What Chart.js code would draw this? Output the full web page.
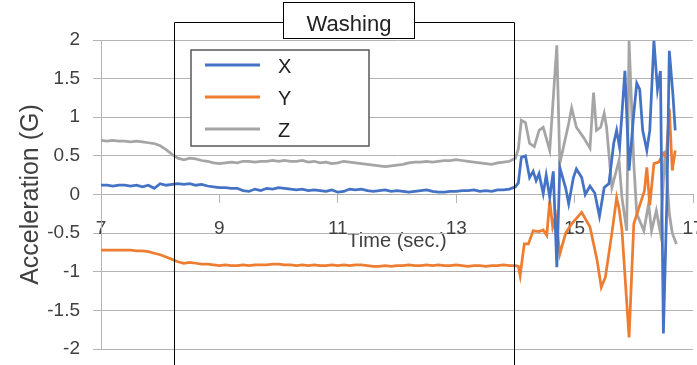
<!DOCTYPE html>
<html>
<head>
<meta charset="utf-8">
<script src="https://cdn.jsdelivr.net/npm/chart.js@4/dist/chart.umd.min.js"></script>
<style>
  html, body { margin: 0; padding: 0; background: #fff; }
</style>
</head>
<body>
<canvas id="chart" width="697" height="365"></canvas>
<script>
// time (sec.) for the quiet part of the recording
const calmTime = [
  7.0, 7.1, 7.2, 7.3, 7.4, 7.5, 7.6, 7.7, 7.8, 7.9, 8.0, 8.1, 8.2, 8.3, 8.4, 8.5, 8.6, 8.7, 8.8, 8.9, 9.0,
  9.1, 9.2, 9.3, 9.4, 9.5, 9.6, 9.7, 9.8, 9.9, 10.0,
  10.1, 10.2, 10.3, 10.4, 10.5, 10.6, 10.7, 10.8, 10.9, 11.0,
  11.1, 11.2, 11.3, 11.4, 11.5, 11.6, 11.7, 11.8, 11.9, 12.0,
  12.1, 12.2, 12.3, 12.4, 12.5, 12.6, 12.7, 12.8, 12.9, 13.0,
  13.1, 13.2, 13.3, 13.4, 13.5, 13.6, 13.7, 13.8, 13.9, 14.0
];
const calmX = [
  0.12, 0.12, 0.11, 0.12, 0.12, 0.11, 0.12, 0.10, 0.12, 0.08, 0.14, 0.12, 0.13, 0.14, 0.13, 0.14, 0.12, 0.13, 0.11, 0.10, 0.09,
  0.09, 0.08, 0.08, 0.05, 0.04, 0.07, 0.05, 0.08, 0.07, 0.09,
  0.08, 0.07, 0.06, 0.07, 0.05, 0.06, 0.05, 0.04, 0.06, 0.03,
  0.04, 0.07, 0.06, 0.07, 0.05, 0.04, 0.05, 0.06, 0.04, 0.05,
  0.04, 0.03, 0.04, 0.05, 0.06, 0.04, 0.03, 0.03, 0.04, 0.04,
  0.05, 0.05, 0.06, 0.04, 0.05, 0.04, 0.06, 0.06, 0.07, 0.10
];
const calmY = [
  -0.72, -0.72, -0.72, -0.72, -0.72, -0.72, -0.73, -0.73, -0.74, -0.76, -0.78, -0.81, -0.84, -0.87, -0.89, -0.88, -0.89, -0.90, -0.90, -0.91, -0.92,
  -0.91, -0.92, -0.92, -0.91, -0.92, -0.91, -0.91, -0.91, -0.90, -0.90,
  -0.91, -0.91, -0.92, -0.91, -0.92, -0.91, -0.92, -0.92, -0.91, -0.92,
  -0.91, -0.92, -0.91, -0.91, -0.92, -0.93, -0.93, -0.92, -0.93, -0.92,
  -0.92, -0.91, -0.92, -0.92, -0.91, -0.92, -0.91, -0.92, -0.92, -0.91,
  -0.92, -0.93, -0.92, -0.92, -0.93, -0.92, -0.92, -0.91, -0.92, -0.92
];
const calmZ = [
  0.70, 0.69, 0.70, 0.69, 0.69, 0.68, 0.69, 0.68, 0.67, 0.66, 0.63, 0.58, 0.52, 0.47, 0.45, 0.47, 0.46, 0.44, 0.43, 0.41, 0.40,
  0.41, 0.42, 0.41, 0.43, 0.43, 0.42, 0.43, 0.43, 0.44, 0.43,
  0.44, 0.43, 0.43, 0.44, 0.42, 0.43, 0.41, 0.42, 0.40, 0.41,
  0.43, 0.42, 0.41, 0.40, 0.39, 0.38, 0.37, 0.36, 0.37, 0.38,
  0.39, 0.41, 0.42, 0.42, 0.43, 0.42, 0.43, 0.44, 0.44, 0.45,
  0.44, 0.43, 0.42, 0.41, 0.40, 0.39, 0.41, 0.42, 0.43, 0.47
];

// after washing: shaking part, each axis read separately
const shakeTimeX = [14.05, 14.1, 14.17, 14.24, 14.3, 14.35, 14.4, 14.47, 14.52, 14.58, 14.64, 14.7, 14.75, 14.85, 14.9, 14.98,
  15.03, 15.12, 15.18, 15.26, 15.34, 15.42, 15.5, 15.58, 15.66, 15.71, 15.76, 15.85, 15.92, 16.0, 16.05, 16.1, 16.15,
  16.22, 16.27, 16.34, 16.4, 16.45, 16.5, 16.56, 16.6, 16.66, 16.7];
const shakeX = [0.15, 0.48, 0.50, 0.22, 0.30, 0.18, 0.27, 0.01, 0.25, -0.04, 0.30, -0.94, 0.35, 0.08, -0.12, 0.22,
  0.33, 0.22, 0.00, 0.11, 0.02, -0.28, 0.09, 0.14, 0.66, 0.83, 0.61, 1.60, 0.31, 1.05, 1.44, 1.36, 0.83,
  0.57, 0.83, 1.99, 1.36, 1.60, -1.80, -0.04, 1.86, 1.30, 0.83];

const shakeTimeY = [14.05, 14.08, 14.15, 14.22, 14.3, 14.4, 14.47, 14.53, 14.58, 14.63, 14.68, 14.75, 14.85, 14.95,
  15.12, 15.26, 15.38, 15.45, 15.52, 15.63, 15.71, 15.75, 15.8, 15.92, 16.0, 16.1, 16.18, 16.22, 16.27, 16.34,
  16.42, 16.5, 16.55, 16.6, 16.65, 16.7];
const shakeY = [-0.93, -1.05, -0.64, -0.64, -0.47, -0.48, -0.46, -0.53, -0.08, -0.42, -0.28, -0.77, -0.50, -0.38,
  -0.23, -0.42, -0.85, -1.20, -1.07, -0.50, -0.04, -0.18, -0.46, -1.85, -0.38, -0.14, 0.05, 0.35, -0.14, 0.40,
  0.42, 0.53, 0.48, 1.11, 0.31, 0.57];

const shakeTimeZ = [14.05, 14.1, 14.17, 14.24, 14.32, 14.4, 14.47, 14.58, 14.7, 14.75, 14.9, 14.95, 15.03, 15.15,
  15.26, 15.32, 15.37, 15.44, 15.5, 15.54, 15.63, 15.75, 15.8, 15.88, 15.92, 16.0, 16.05, 16.1, 16.17, 16.25,
  16.3, 16.38, 16.45, 16.53, 16.6, 16.65, 16.72];
const shakeZ = [0.59, 0.96, 0.93, 0.66, 0.62, 0.83, 0.87, 0.57, 1.93, 0.40, 0.92, 1.12, 0.87, 0.74,
  0.60, 1.32, 0.83, 0.87, 1.05, 0.87, 0.09, 0.44, -0.04, -0.47, 1.99, 0.40, -0.25, -0.34, -0.47, -0.12,
  -0.47, -0.21, -0.50, 0.57, -0.25, -0.50, -0.64];

const seriesNames = ['X', 'Y', 'Z'];
const seriesColors = ['#4472C4', '#ED7D31', '#A5A5A5'];
const yTicks = [-2, -1.5, -1, -0.5, 0, 0.5, 1, 1.5, 2];
const xTicks = [7, 9, 11, 13, 15, 17];
const washStart = 8.23, washEnd = 13.98;

function pts(t1, v1, t2, v2) {
  return t1.concat(t2).map((t, i) => ({ x: t, y: v1.concat(v2)[i] }));
}

const textCol = '#404040';
const gridCol = '#b4b4b4';
const FONT = "'Liberation Sans', Arial, sans-serif";

// box around the washing period + legend inside the plot
const overlay = {
  id: 'overlay',
  afterDatasetsDraw(chart) {
    const ctx = chart.ctx;
    const xs = chart.scales.x;
    const left = Math.round(xs.getPixelForValue(washStart)) + 0.5;
    const right = Math.round(xs.getPixelForValue(washEnd)) + 0.5;
    const top = chart.chartArea.top - 18 + 0.5;
    ctx.save();
    ctx.strokeStyle = '#000';
    ctx.lineWidth = 1;
    ctx.beginPath();
    ctx.moveTo(left, chart.height);
    ctx.lineTo(left, top);
    ctx.lineTo(right, top);
    ctx.lineTo(right, chart.height);
    ctx.stroke();

    // "Washing" label box
    ctx.fillStyle = '#fff';
    ctx.fillRect(283, 2, 131, 36);
    ctx.strokeRect(283.5, 2.5, 131, 36);
    ctx.fillStyle = '#222';
    ctx.font = '22px ' + FONT;
    ctx.textAlign = 'center';
    ctx.textBaseline = 'alphabetic';
    ctx.fillText('Washing', 349, 31);

    // legend
    ctx.fillStyle = '#fff';
    ctx.fillRect(191, 50, 178, 96);
    ctx.strokeStyle = '#595959';
    ctx.lineWidth = 1.5;
    ctx.strokeRect(191, 50, 178, 96);
    chart.data.datasets.forEach((ds, i) => {
      const y = 65 + i * 32;
      ctx.strokeStyle = ds.borderColor;
      ctx.lineWidth = 3;
      ctx.beginPath();
      ctx.moveTo(205, y);
      ctx.lineTo(260, y);
      ctx.stroke();
      ctx.fillStyle = '#222';
      ctx.font = '20px ' + FONT;
      ctx.textAlign = 'left';
      ctx.fillText(ds.label, 278, y + 8);
    });
    ctx.restore();
  }
};

new Chart(document.getElementById('chart'), {
  type: 'line',
  data: {
    datasets: [
      { label: seriesNames[0], data: pts(calmTime, calmX, shakeTimeX, shakeX), borderColor: seriesColors[0] },
      { label: seriesNames[1], data: pts(calmTime, calmY, shakeTimeY, shakeY), borderColor: seriesColors[1] },
      { label: seriesNames[2], data: pts(calmTime, calmZ, shakeTimeZ, shakeZ), borderColor: seriesColors[2] }
    ]
  },
  options: {
    responsive: false,
    animation: false,
    datasets: { line: { borderWidth: 2.75, pointRadius: 0, tension: 0 } },
    layout: { padding: { top: 40, right: 4, bottom: 16, left: 0 } },
    plugins: { legend: { display: false }, tooltip: { enabled: false } },
    scales: {
      x: {
        type: 'linear',
        min: 7, max: 17,
        position: { y: 0 },
        afterBuildTicks: s => { s.ticks = xTicks.map(v => ({ value: v })); },
        afterFit: s => { s.paddingLeft = 0; s.paddingRight = 0; },
        ticks: { color: textCol, font: { size: 19, family: FONT }, padding: 15, maxRotation: 0, autoSkip: false,
          callback: v => String(v) },
        grid: { drawOnChartArea: false, tickLength: 8, color: gridCol },
        border: { color: gridCol },
        title: { display: true, text: 'Time (sec.)', color: textCol, font: { size: 20, family: FONT },
          padding: { top: -26, bottom: 0 } }
      },
      y: {
        min: -2, max: 2,
        afterBuildTicks: s => { s.ticks = yTicks.map(v => ({ value: v })); },
        afterFit: s => { s.width = 101; s.paddingTop = 0; s.paddingBottom = 0; },
        ticks: { color: textCol, font: { size: 19, family: FONT }, padding: 13, callback: v => String(v) },
        grid: { color: gridCol, tickLength: 8 },
        border: { color: gridCol },
        title: { display: true, text: 'Acceleration (G)', color: textCol, font: { size: 25, family: FONT },
          padding: { top: 16, bottom: 0 } }
      }
    }
  },
  plugins: [overlay]
});
</script>
</body>
</html>
